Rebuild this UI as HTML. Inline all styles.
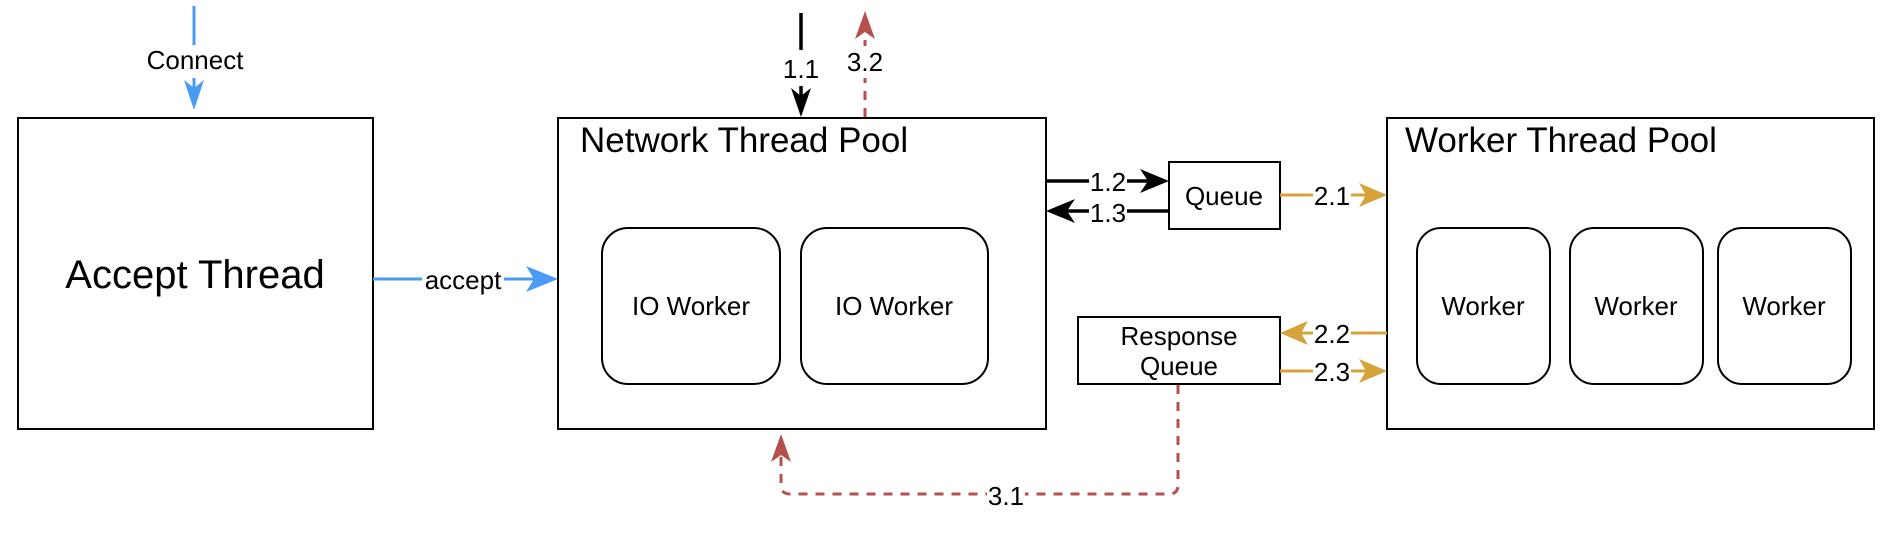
<!DOCTYPE html>
<html><head><meta charset="utf-8"><style>
html,body{margin:0;padding:0;background:#fff;}
svg{display:block;font-family:"Liberation Sans",sans-serif;}
</style></head><body>
<svg width="1892" height="538" viewBox="0 0 1892 538" xmlns="http://www.w3.org/2000/svg">
<g fill="none" stroke="#000" stroke-width="2">
<rect x="18" y="118" width="355" height="311"/>
<rect x="558" y="118" width="488" height="311"/>
<rect x="1387" y="118" width="487" height="311"/>
<rect x="602" y="228" width="178" height="156" rx="26"/>
<rect x="801" y="228" width="187" height="156" rx="26"/>
<rect x="1417" y="228" width="133" height="156" rx="24"/>
<rect x="1570" y="228" width="133" height="156" rx="24"/>
<rect x="1718" y="228" width="133" height="156" rx="24"/>
<rect x="1169" y="162" width="111" height="67"/>
<rect x="1078" y="317" width="202" height="67"/>
</g>
<!-- blue -->
<g stroke="#4A9BF5" stroke-width="3" fill="#4A9BF5">
<line x1="194" y1="6" x2="194" y2="45"/>
<line x1="194" y1="78" x2="194" y2="95"/>
<path d="M184,80 L194,110 L204,80 L194,88z" stroke="none"/>
<line x1="373" y1="279" x2="540" y2="279"/>
<path d="M526,266 L558,279 L526,292 L534,279z" stroke="none"/>
</g>
<!-- black -->
<g stroke="#000" stroke-width="3.5" fill="#000">
<line x1="801" y1="13" x2="801" y2="50"/>
<line x1="801" y1="86" x2="801" y2="100"/>
<path d="M791,88 L801,117 L811,88 L801,96z" stroke="none"/>
<line x1="1046" y1="181" x2="1152" y2="181"/>
<path d="M1140,169 L1169,181 L1140,193 L1148,181z" stroke="none"/>
<line x1="1169" y1="211" x2="1060" y2="211"/>
<path d="M1075,199 L1046,211 L1075,223 L1067,211z" stroke="none"/>
</g>
<!-- gold -->
<g stroke="#D6A33A" stroke-width="3" fill="#D6A33A">
<line x1="1280" y1="195" x2="1372" y2="195"/>
<path d="M1359,183 L1387,195 L1359,207 L1366,195z" stroke="none"/>
<line x1="1387" y1="333" x2="1295" y2="333"/>
<path d="M1308,321 L1280,333 L1308,345 L1301,333z" stroke="none"/>
<line x1="1280" y1="371" x2="1372" y2="371"/>
<path d="M1359,359 L1387,371 L1359,383 L1366,371z" stroke="none"/>
</g>
<!-- red dashed -->
<g stroke="#B5504C" stroke-width="3" fill="none" stroke-dasharray="9,8">
<line x1="865" y1="117" x2="865" y2="30"/>
<path d="M1178,385 L1178,485 Q1178,494 1169,494 L790,494 Q781,494 781,485 L781,448"/>
</g>
<g fill="#B5504C">
<path d="M855,39 L865,11 L875,39 L865,32z"/>
<path d="M771,462 L781,434 L791,462 L781,455z"/>
</g>
<!-- label backgrounds -->
<g fill="#fff">
<rect x="140" y="45" width="112" height="32"/>
<rect x="783" y="53" width="36" height="32"/>
<rect x="846" y="46" width="38" height="32"/>
<rect x="422" y="265" width="82" height="30"/>
<rect x="1089" y="168" width="38" height="28"/>
<rect x="1089" y="198" width="38" height="28"/>
<rect x="1313" y="182" width="38" height="28"/>
<rect x="1313" y="320" width="38" height="28"/>
<rect x="1313" y="358" width="38" height="28"/>
<rect x="987" y="481" width="38" height="28"/>
</g>
<g fill="#000" font-size="26" text-anchor="middle">
<text x="195" y="69">Connect</text>
<text x="801" y="78">1.1</text>
<text x="865" y="71">3.2</text>
<text x="463" y="289">accept</text>
<text x="1108" y="191">1.2</text>
<text x="1108" y="222">1.3</text>
<text x="1332" y="205">2.1</text>
<text x="1332" y="343">2.2</text>
<text x="1332" y="381">2.3</text>
<text x="1006" y="505">3.1</text>
<text x="691" y="315">IO Worker</text>
<text x="894" y="315">IO Worker</text>
<text x="1483" y="315">Worker</text>
<text x="1636" y="315">Worker</text>
<text x="1784" y="315">Worker</text>
<text x="1224" y="205">Queue</text>
<text x="1179" y="345">Response</text>
<text x="1179" y="375">Queue</text>
</g>
<g fill="#000">
<text x="195" y="288" font-size="40" text-anchor="middle">Accept Thread</text>
<text x="580" y="152" font-size="35">Network Thread Pool</text>
<text x="1405" y="152" font-size="35">Worker Thread Pool</text>
</g>
</svg>
</body></html>
